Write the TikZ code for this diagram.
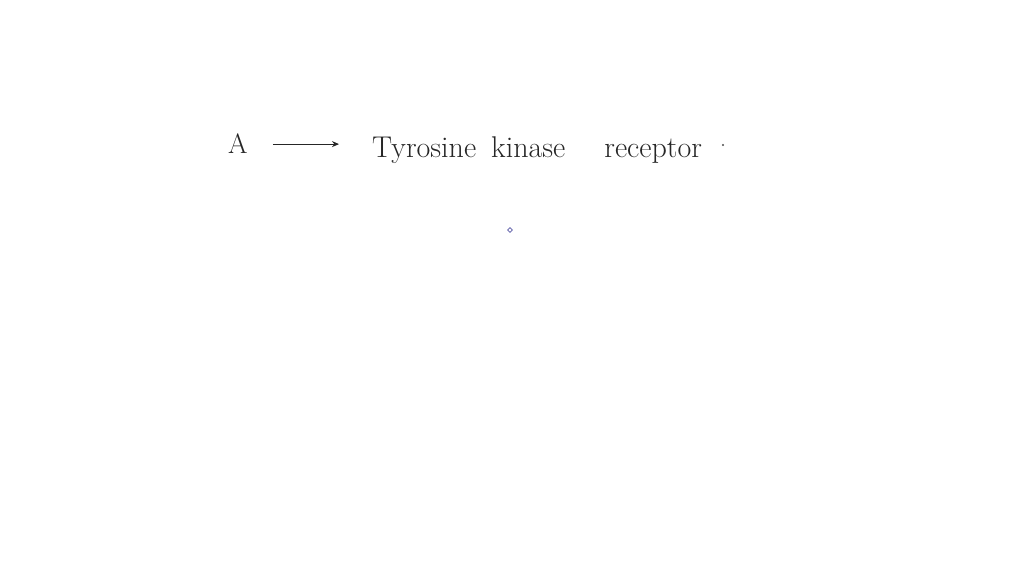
\documentclass[tikz,border=0pt]{standalone}
\usetikzlibrary{arrows.meta,shapes.geometric}
\begin{document}
\begin{tikzpicture}[x=1pt,y=-1pt,
  hand/.style={inner sep=0pt, font=\fontsize{28}{32}\selectfont, text=black!85},
  bigger/.style={font=\fontsize{30}{34}\selectfont},
  link/.style={line width=1.1pt, black!85, -{Stealth[length=7pt,width=6pt]}}]
\useasboundingbox[fill=white] (0,0) rectangle (1024,576);
\node[hand, anchor=base west] (A) at (228,153) {A};
\node[hand, bigger, anchor=base west] (T) at (372,157) {Tyrosine\hspace{6pt} kinase\hspace{30pt} receptor};
\fill[black!70] (723,145) circle (1.1pt) coordinate (dot);
\draw[link, shorten <=25pt, shorten >=33pt] ([yshift=-1pt]A.east) -- ([yshift=-1pt]A.east -| T.west);
\node[diamond, draw=blue!30!gray, line width=0.8pt, inner sep=0pt, minimum size=5pt] (cur) at (510,230) {};
\end{tikzpicture}
\end{document}
